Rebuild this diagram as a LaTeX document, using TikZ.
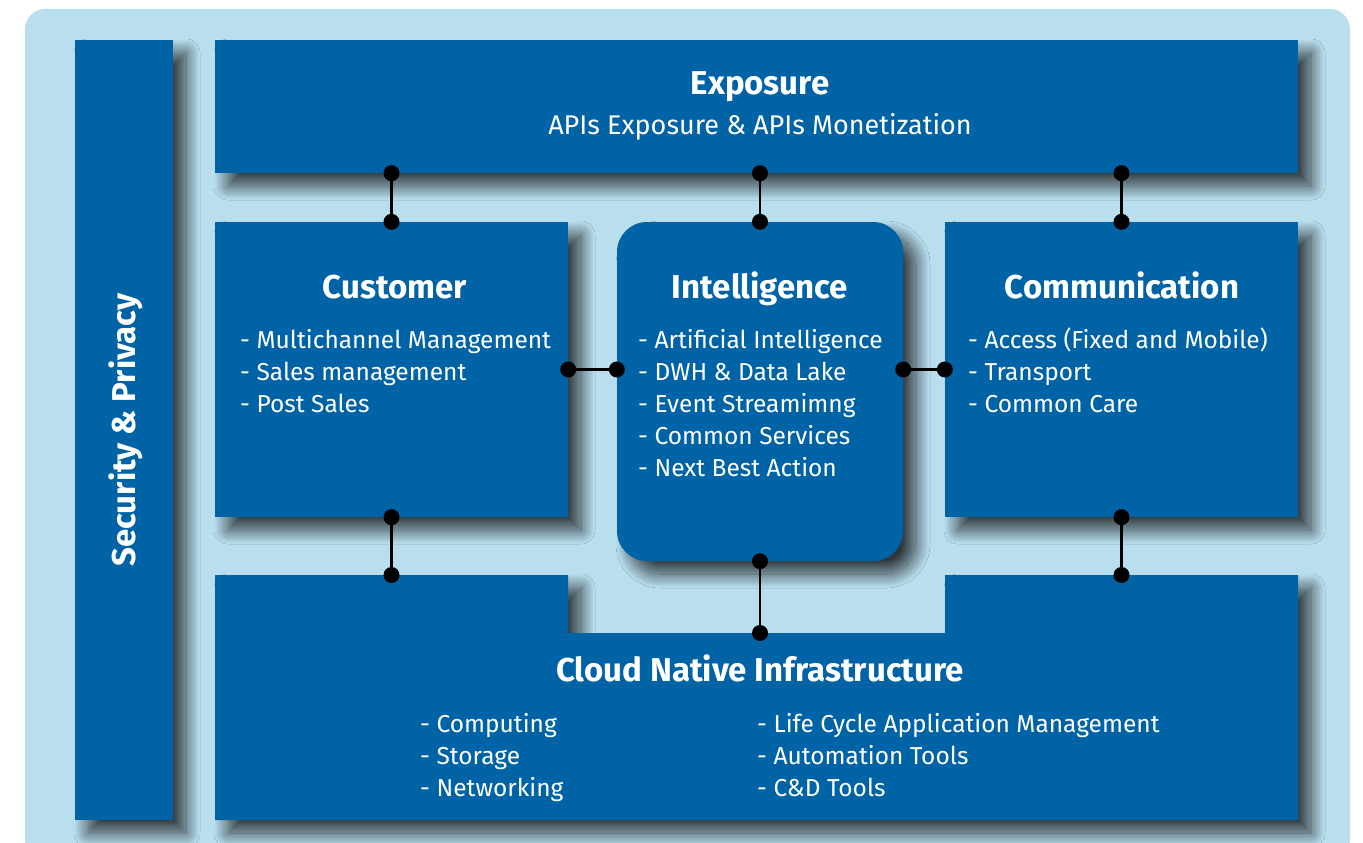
\documentclass[tikz,border=0pt]{standalone}
\usepackage{fontspec}
\setmainfont{Fira Sans}
\usetikzlibrary{shadows.blur}

\definecolor{panelblue}{RGB}{0,99,166}
\definecolor{paleblue}{RGB}{185,223,239}

\tikzset{
  softshadow/.style={blur shadow={shadow xshift=13pt,shadow yshift=-13pt,shadow blur radius=14pt,shadow blur steps=30,shadow opacity=75}},
  block/.style={fill=panelblue,inner sep=0pt,softshadow},
  title/.style={text=white,font=\bfseries\fontsize{33}{38}\selectfont,inner sep=0pt,text height=24pt,text depth=7pt},
  item/.style={text=white,anchor=west,font=\fontsize{24.5}{30}\selectfont,inner sep=0pt,text height=18pt,text depth=5pt},
  link/.style={line width=2.5pt,black}
}

\begin{document}
\begin{tikzpicture}[x=1pt,y=-1pt]
\useasboundingbox (0,0) rectangle (1363,843);
\fill[paleblue,rounded corners=20pt] (25,9) rectangle (1350,860);

% blocks
\node[block,minimum width=98pt,minimum height=780pt] (sec) at (124,430) {};
\node[block,minimum width=1083pt,minimum height=133pt] (expo) at (756.5,106.5) {};
\node[block,minimum width=353pt,minimum height=295pt] (cust) at (391.5,369.5) {};
\node[block,minimum width=286pt,minimum height=339pt,rounded corners=30pt] (intel) at (760,391.5) {};
\node[block,minimum width=353pt,minimum height=295pt] (comm) at (1121.5,369.5) {};
\path[fill=panelblue,softshadow]
  (215,575) -- (568,575) -- (568,633) -- (945,633) -- (945,575) -- (1298,575)
  -- (1298,820) -- (215,820) -- cycle;
\coordinate (cloudL) at (391.5,575);
\coordinate (cloudM) at (760,633);
\coordinate (cloudR) at (1121.5,575);

% titles
\node[title,rotate=90] (secT) at (127,430) {Security \& Privacy};
\node[title] (expoT) at (760,86) {Exposure};
\node[item,anchor=center,font=\fontsize{27}{32}\selectfont] (expoS) at (760,128) {APIs Exposure \& APIs Monetization};
\node[title] (custT) at (395,290) {Customer};
\node[title] (intelT) at (760,290) {Intelligence};
\node[title] (commT) at (1122,290) {Communication};
\node[title] (cloudT) at (760,673) {Cloud Native Infrastructure};

% items
\foreach \t [count=\i] in {{Multichannel Management},{Sales management},{Post Sales}}
  \node[item] (cust-\i) at (240,342+32*\i-32) {- \t};
\foreach \t [count=\i] in {{Artificial Intelligence},{DWH \& Data Lake},{Event Streamimng},{Common Services},{Next Best Action}}
  \node[item] (intel-\i) at (638,342+32*\i-32) {- \t};
\foreach \t [count=\i] in {{Access (Fixed and Mobile)},{Transport},{Common Care}}
  \node[item] (comm-\i) at (968,342+32*\i-32) {- \t};
\foreach \t [count=\i] in {{Computing},{Storage},{Networking}}
  \node[item] (cloudA-\i) at (420,726+32*\i-32) {- \t};
\foreach \t [count=\i] in {{Life Cycle Application Management},{Automation Tools},{C\&D Tools}}
  \node[item] (cloudB-\i) at (757,726+32*\i-32) {- \t};

% links
\draw[link] (cust.north |- expo.south) coordinate (p1) -- (cust.north) coordinate (p2);
\draw[link] (intel.north |- expo.south) coordinate (p3) -- (intel.north) coordinate (p4);
\draw[link] (comm.north |- expo.south) coordinate (p5) -- (comm.north) coordinate (p6);
\draw[link] (cust.east) coordinate (p7) -- (intel.west |- cust.east) coordinate (p8);
\draw[link] (intel.east |- comm.west) coordinate (p9) -- (comm.west) coordinate (p10);
\draw[link] (cust.south) coordinate (p11) -- (cloudL) coordinate (p12);
\draw[link] (intel.south) coordinate (p13) -- (intel.south |- cloudM) coordinate (p14);
\draw[link] (comm.south) coordinate (p15) -- (cloudR) coordinate (p16);
\foreach \i in {1,...,16}
  \fill[black] (p\i) circle (8pt);
\end{tikzpicture}
\end{document}
